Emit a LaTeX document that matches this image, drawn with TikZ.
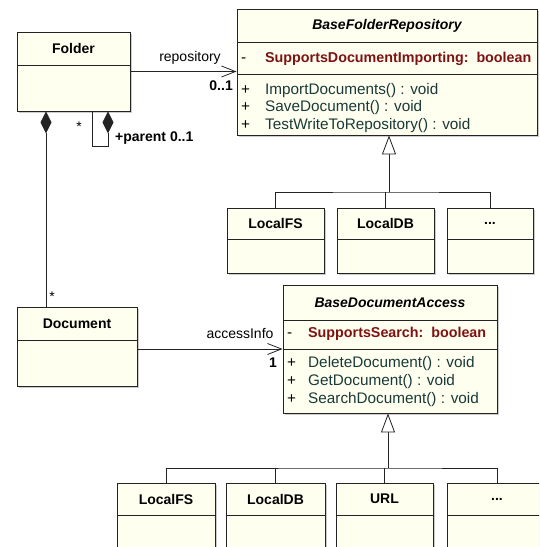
\documentclass[tikz,border=0pt]{standalone}
\usepackage{fontspec}
\setmainfont{Liberation Sans}
\usetikzlibrary{arrows.meta,shadows}

\definecolor{umlfill}{RGB}{255,255,240}
\definecolor{umlline}{RGB}{35,35,35}
\definecolor{umlattr}{RGB}{125,18,18}
\definecolor{umlop}{RGB}{25,58,56}

\tikzset{
  classbox/.style={draw=umlline, fill=umlfill, line width=0.9pt, inner sep=0pt,
    drop shadow={shadow xshift=2pt, shadow yshift=-2pt, opacity=0.2, fill=black}},
  divider/.style={draw=umlline, line width=0.9pt},
  classname/.style={font=\fontsize{14}{16}\selectfont\bfseries, inner sep=0pt},
  member/.style={font=\fontsize{15.3}{17}\selectfont, inner sep=0pt, anchor=base west},
  label/.style={font=\fontsize{14}{16}\selectfont, inner sep=0pt, anchor=base},
  mult/.style={font=\fontsize{14}{16}\selectfont\bfseries, inner sep=0pt, anchor=base},
  assoc/.style={draw=umlline, line width=0.8pt, -{Straight Barb[length=14pt,width=11pt]}},
  composite/.style={draw=umlline, line width=0.8pt, {Diamond[length=22pt,width=11pt]}-},
  inherit/.style={draw=umlline, line width=0.8pt, -{Triangle[length=19pt,width=14pt,fill=white]}},
  tree/.style={draw=umlline, line width=0.8pt}
}

% name, x1, y1, x2, y2, header divider, title
\newcommand{\umlclass}[7]{%
  \node[classbox, minimum width=#4pt-#2pt, minimum height=#5pt-#3pt]
    (#1) at ({(#2+#4)/2},{(#3+#5)/2}) {};
  \draw[divider] (#2,#6) -- (#4,#6);
  \node[classname] (#1-name) at ({(#2+#4)/2},{(#3+#6)/2}) {#7};
}
\newcommand{\vis}[1]{\makebox[24pt][l]{\color{black}#1}}

\begin{document}
\begin{tikzpicture}[x=1pt,y=-1pt]
  \useasboundingbox (0,0) rectangle (539,547);
  \clip (0,0) rectangle (539,547);

  % Folder side
  \umlclass{folder}{17}{32}{130}{111}{65}{Folder}
  \umlclass{document}{17}{307}{137}{386}{340}{Document}

  % Repository hierarchy
  \umlclass{repo}{237}{9}{537}{135}{42}{\itshape BaseFolderRepository}
  \draw[divider] (237,74) -- (537,74);
  \node[member] (repo-attr) at (241,62) {\vis{-}\textcolor{umlattr}{\fontsize{14.3}{16}\selectfont\bfseries SupportsDocumentImporting:\ \ boolean}};
  \node[member, text=umlop] (repo-op1) at (241,94) {\vis{+}ImportDocuments() : void};
  \node[member, text=umlop] (repo-op2) at (241,111.5) {\vis{+}SaveDocument() : void};
  \node[member, text=umlop] (repo-op3) at (241,129) {\vis{+}TestWriteToRepository() : void};

  \umlclass{repoFS}{227}{208}{324}{273}{239}{LocalFS}
  \umlclass{repoDB}{337}{208}{434}{273}{239}{LocalDB}
  \umlclass{repoMore}{447}{208}{533}{273}{239}{...}

  % Access hierarchy
  \umlclass{access}{283}{285}{497}{413}{320}{\itshape BaseDocumentAccess}
  \draw[divider] (283,349) -- (497,349);
  \node[member] (access-attr) at (287,337) {\vis{-}\hspace{-3pt}\textcolor{umlattr}{\fontsize{14.3}{16}\selectfont\bfseries SupportsSearch:\ \ boolean}};
  \node[member, text=umlop] (access-op1) at (287,367) {\vis{+}\hspace{-3pt}DeleteDocument() : void};
  \node[member, text=umlop] (access-op2) at (287,385) {\vis{+}\hspace{-3pt}GetDocument() : void};
  \node[member, text=umlop] (access-op3) at (287,403) {\vis{+}\hspace{-3pt}SearchDocument() : void};

  \umlclass{accFS}{117}{483}{215}{570}{515}{LocalFS}
  \umlclass{accDB}{226}{483}{325}{570}{515}{LocalDB}
  \umlclass{accURL}{336}{483}{433}{570}{515}{URL}
  \umlclass{accMore}{447}{483}{547}{570}{515}{...}

  % Generalizations
  \coordinate (hubA) at (389,192);
  \draw[inherit] (hubA) -- (hubA |- repo.south);
  \draw[tree] (repoFS.north) |- (hubA) -| (repoMore.north);
  \draw[tree] (repoDB.north) -- (repoDB.north |- hubA);

  \coordinate (hubB) at (388,468);
  \draw[inherit] (hubB) -- (hubB |- access.south);
  \draw[tree] (accFS.north) |- (hubB) -| (accMore.north);
  \draw[tree] (accDB.north) -- (accDB.north |- hubB);
  \draw[tree] (accURL.north) -- (accURL.north |- hubB);

  % Associations
  \draw[assoc] (folder.east) -- (folder.east -| repo.west);
  \node[label] (repo-role) at (190,61.5) {repository};
  \node[mult, anchor=base east] (repo-mult) at (233,90) {0..1};

  \draw[assoc] (document.east |- 0,349) -- (access.west |- 0,349);
  \node[label] (access-role) at (240,338.5) {accessInfo};
  \node[mult, anchor=base east] (access-mult) at (277,367) {1};

  % Compositions
  \draw[composite] (folder.south -| 46,0) -- (document.north -| 46,0);
  \node[label] (doc-mult) at (52,301) {*};
  \draw[composite] (folder.south -| 108,0) -- (108,146) -| (folder.south -| 92,0);
  \node[label] (child-mult) at (79,131) {*};
  \node[mult, anchor=base west] (parent-mult) at (115,141) {+parent 0..1};
\end{tikzpicture}
\end{document}
